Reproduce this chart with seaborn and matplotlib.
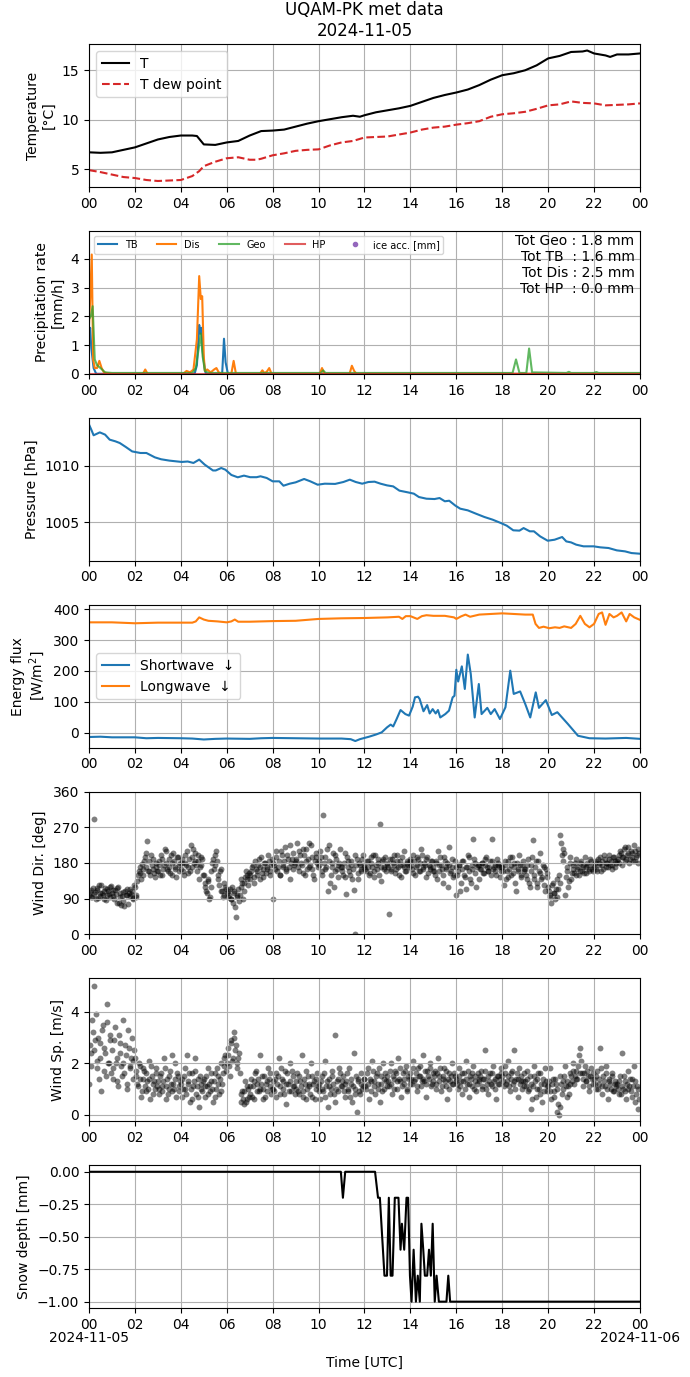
import pandas as pd
import numpy as np
import seaborn as sns
import matplotlib.pyplot as plt
import matplotlib.dates as mdates
import matplotlib.ticker as mticker

DAY = pd.Timestamp('2024-11-05')

# Temperature (hours since 00 UTC)
t_hours = [0, 0.5, 1, 1.5, 2, 2.5, 3, 3.5, 4, 4.5, 4.7, 5, 5.5, 6, 6.5, 7, 7.5, 8, 8.5, 9,
           9.5, 10, 10.5, 11, 11.5, 11.8, 12, 12.5, 13, 13.5, 14, 14.5, 15, 15.5, 16, 16.5,
           17, 17.5, 18, 18.5, 19, 19.5, 20, 20.5, 21, 21.5, 21.7, 22, 22.5, 22.7, 23, 23.5, 24]
temp = [6.7, 6.65, 6.7, 6.95, 7.2, 7.6, 8.0, 8.25, 8.4, 8.4, 8.35, 7.5, 7.45, 7.7, 7.85, 8.4,
        8.85, 8.9, 9.0, 9.3, 9.6, 9.85, 10.05, 10.25, 10.4, 10.3, 10.45, 10.75, 10.95, 11.15,
        11.4, 11.8, 12.2, 12.5, 12.75, 13.05, 13.5, 14.05, 14.5, 14.7, 15.0, 15.5, 16.2, 16.45,
        16.85, 16.9, 17.0, 16.7, 16.5, 16.35, 16.6, 16.6, 16.7]
td_hours = [0, 0.5, 1, 1.5, 2, 2.5, 3, 3.5, 4, 4.5, 4.8, 5, 5.5, 6, 6.5, 7, 7.3, 7.5, 8, 8.5,
            9, 9.5, 10, 10.5, 11, 11.5, 12, 12.5, 13, 13.5, 14, 14.5, 15, 15.5, 16, 16.5, 17,
            17.5, 18, 18.5, 19, 19.5, 20, 20.5, 21, 21.5, 22, 22.5, 23, 23.5, 24]
dewpoint = [4.9, 4.7, 4.45, 4.2, 4.1, 3.9, 3.8, 3.85, 3.9, 4.3, 4.8, 5.3, 5.75, 6.1, 6.2, 5.95,
            5.95, 6.05, 6.4, 6.6, 6.85, 6.95, 7.0, 7.4, 7.7, 7.85, 8.2, 8.25, 8.3, 8.5, 8.7, 9.0,
            9.2, 9.3, 9.5, 9.65, 9.85, 10.3, 10.55, 10.65, 10.8, 11.1, 11.45, 11.55, 11.85, 11.7,
            11.65, 11.45, 11.5, 11.55, 11.65]

# Precipitation rate [mm/h]
tb_hours = [0, 0.05, 0.1, 0.2, 0.3, 0.35, 4.6, 4.7, 4.8, 4.85, 4.9, 4.95, 5.05, 5.1,
            5.8, 5.88, 5.95, 6.05, 24]
tb_rate = [1.2, 1.6, 0.9, 0.2, 0.02, 0, 0, 0.3, 1.7, 1.4, 1.6, 0.8, 0.1, 0,
           0, 1.22, 0.4, 0, 0]
dis_hours = [0, 0.05, 0.12, 0.18, 0.25, 0.35, 0.45, 0.55, 0.65, 0.8, 1.0, 2.35, 2.45, 2.55,
             4.1, 4.25, 4.4, 4.55, 4.7, 4.8, 4.87, 4.93, 5.0, 5.05, 5.15, 5.3, 5.45, 5.55,
             5.65, 5.8, 6.2, 6.3, 6.4, 7.45, 7.55, 7.65, 7.75, 7.85, 7.95, 10.05, 10.15,
             10.25, 11.35, 11.45, 11.55, 11.65, 24]
dis_rate = [1.7, 2.6, 4.15, 0.5, 0.2, 0.2, 0.45, 0.2, 0.05, 0.02, 0, 0, 0.15, 0,
            0, 0.1, 0.05, 0.15, 1.2, 3.4, 2.6, 2.7, 0.6, 0.1, 0.15, 0.05, 0.15, 0.2,
            0.05, 0, 0, 0.45, 0, 0, 0.12, 0.02, 0.08, 0.2, 0, 0, 0.2,
            0, 0, 0.28, 0.1, 0, 0]
geo_hours = [0, 0.08, 0.16, 0.25, 0.35, 0.5, 0.7, 1.0, 4.5, 4.65, 4.8, 4.87, 4.95, 5.05,
             5.2, 10.1, 10.2, 10.3, 18.45, 18.6, 18.75, 19.05, 19.17, 19.3, 20.8, 20.9,
             21.0, 22.0, 22.1, 22.2, 24]
geo_rate = [1.9, 2.0, 2.35, 0.5, 0.3, 0.2, 0.05, 0.03, 0.03, 0.2, 1.0, 1.4, 0.6, 0.1,
            0.03, 0.03, 0.12, 0.03, 0.03, 0.5, 0.03, 0.03, 0.88, 0.05, 0.03, 0.07,
            0.03, 0.03, 0.06, 0.03, 0.03]
hp_hours = [0, 24]
hp_rate = [0, 0]
totals = {'Geo': 1.8, 'TB ': 1.6, 'Dis': 2.5, 'HP ': 0.0}

# Pressure [hPa]
p_hours = [0, 0.1, 0.2, 0.47, 0.7, 0.9, 1.15, 1.34, 1.6, 1.88, 2.24, 2.5, 2.87, 3.14, 3.5,
           4.04, 4.3, 4.55, 4.8, 5.04, 5.4, 5.52, 5.76, 5.94, 6.2, 6.48, 6.75, 7.02, 7.3,
           7.47, 7.74, 8.0, 8.29, 8.47, 8.74, 9.0, 9.37, 9.64, 9.96, 10.27, 10.72, 11.08,
           11.36, 11.62, 11.9, 12.17, 12.44, 12.7, 12.98, 13.25, 13.52, 13.88, 14.15, 14.37,
           14.7, 15.05, 15.27, 15.5, 15.69, 15.96, 16.17, 16.5, 16.86, 17.22, 17.58, 17.94,
           18.2, 18.48, 18.75, 18.93, 19.2, 19.38, 19.65, 19.98, 20.28, 20.61, 20.79, 21.0,
           21.22, 21.54, 21.98, 22.27, 22.63, 22.99, 23.35, 23.63, 24]
pressure = [1013.7, 1013.24, 1012.74, 1013.0, 1012.8, 1012.35, 1012.2, 1012.05, 1011.7,
            1011.3, 1011.16, 1011.16, 1010.77, 1010.6, 1010.48, 1010.36, 1010.4, 1010.27,
            1010.57, 1010.12, 1009.6, 1009.6, 1009.82, 1009.67, 1009.2, 1008.99, 1009.14,
            1009.0, 1009.0, 1009.08, 1008.93, 1008.63, 1008.63, 1008.24, 1008.42, 1008.54,
            1008.84, 1008.63, 1008.33, 1008.42, 1008.4, 1008.57, 1008.78, 1008.57, 1008.42,
            1008.57, 1008.6, 1008.42, 1008.27, 1008.18, 1007.8, 1007.65, 1007.53, 1007.23,
            1007.08, 1007.05, 1007.14, 1006.85, 1006.9, 1006.46, 1006.19, 1006.04, 1005.74,
            1005.45, 1005.21, 1004.91, 1004.67, 1004.26, 1004.23, 1004.46, 1004.17, 1004.17,
            1003.72, 1003.33, 1003.42, 1003.66, 1003.27, 1003.18, 1002.98, 1002.83, 1002.83,
            1002.74, 1002.68, 1002.47, 1002.38, 1002.23, 1002.17]

# Radiation [W/m2]
sw_hours = [0, 0.5, 1, 2, 2.5, 3, 4, 4.5, 5.0, 5.5, 6, 7, 7.5, 8, 9, 10, 11, 11.4, 11.6,
            11.8, 12.2, 12.5, 12.75, 12.98, 13.14, 13.25, 13.4, 13.57, 13.78, 13.94, 14.1,
            14.2, 14.33, 14.4, 14.57, 14.73, 14.84, 14.97, 15.1, 15.2, 15.3, 15.52, 15.68,
            15.84, 15.92, 16.0, 16.08, 16.24, 16.37, 16.5, 16.63, 16.8, 16.98, 17.1, 17.35,
            17.5, 17.67, 17.9, 18.14, 18.35, 18.5, 18.78, 19.0, 19.22, 19.46, 19.6, 19.9,
            20.16, 20.4, 20.86, 21.3, 21.8, 22.5, 23.4, 24]
shortwave = [-13, -12, -14, -14, -17, -16, -17, -18, -21, -19, -18, -19, -17, -16, -17, -18,
             -18, -20, -26, -20, -12, -5, 2, 18, 27, 21, 45, 74, 61, 56, 85, 115, 117, 110,
             70, 90, 63, 77, 63, 74, 50, 61, 72, 115, 120, 204, 166, 215, 142, 253, 190, 50,
             158, 61, 81, 61, 77, 45, 83, 201, 126, 134, 94, 50, 131, 81, 106, 58, 67, 29,
             -9, -17, -18, -16, -19]
lw_hours = [0, 1, 2, 3, 4, 4.5, 4.65, 4.8, 5.0, 5.2, 5.6, 6.0, 6.2, 6.35, 6.5, 7, 8, 9, 10,
            11, 12, 13, 13.5, 13.65, 13.8, 14.0, 14.3, 14.5, 14.7, 15.0, 15.5, 15.9, 16.0,
            16.2, 16.4, 16.6, 17.0, 17.5, 18.0, 18.5, 19.0, 19.33, 19.45, 19.6, 19.8, 20.05,
            20.3, 20.5, 20.7, 21.0, 21.2, 21.4, 21.6, 21.8, 22.0, 22.2, 22.35, 22.5, 22.67,
            22.85, 23.0, 23.2, 23.4, 23.55, 23.75, 24]
longwave = [357, 357, 354, 356, 356, 356, 360, 373, 366, 362, 360, 357, 360, 366, 359, 359,
            361, 362, 368, 370, 371, 373, 375, 368, 377, 377, 368, 377, 380, 378, 378, 373,
            368, 376, 382, 375, 382, 384, 386, 384, 382, 382, 352, 339, 343, 338, 341, 339,
            344, 339, 352, 378, 352, 341, 352, 384, 389, 349, 384, 373, 378, 389, 360, 384,
            373, 365]

# Wind: readings at minute 0, 4, 8, ... (set a) and 2, 6, 10, ... (set b), 15 per hour
wind_dir_a = [
    [100, 112, 95, 290, 108, 118, 92, 104, 125, 99, 110, 86, 115, 102, 120],
    [105, 98, 112, 80, 120, 95, 74, 108, 72, 100, 115, 104, 96, 110, 92],
    [120, 95, 150, 170, 140, 165, 185, 205, 236, 160, 150, 175, 190, 145, 170],
    [160, 185, 200, 150, 175, 210, 165, 190, 155, 180, 205, 170, 145, 195, 175],
    [165, 190, 150, 180, 210, 170, 160, 195, 215, 185, 175, 200, 140, 175, 190],
    [150, 120, 105, 135, 95, 160, 190, 175, 210, 150, 125, 165, 110, 100, 120],
    [105, 95, 115, 90, 80, 110, 45, 100, 85, 120, 130, 110, 145, 150, 125],
    [140, 160, 175, 130, 165, 150, 190, 170, 155, 145, 180, 165, 200, 150, 175],
    [90, 175, 210, 160, 185, 150, 200, 170, 220, 165, 190, 140, 180, 205, 175],
    [185, 230, 160, 200, 175, 215, 150, 215, 190, 170, 225, 165, 140, 195, 180],
    [185, 210, 160, 300, 195, 170, 110, 225, 150, 180, 120, 200, 165, 175, 215],
    [170, 150, 205, 103, 185, 160, 175, 140, 112, 0, 190, 155, 175, 165, 200],
    [175, 160, 185, 150, 195, 170, 145, 200, 165, 180, 277, 135, 190, 170, 160],
    [180, 52, 165, 190, 175, 155, 200, 170, 185, 145, 175, 210, 160, 180, 170],
    [185, 165, 200, 150, 175, 190, 160, 215, 170, 180, 145, 195, 175, 165, 185],
    [170, 150, 185, 210, 160, 175, 130, 195, 165, 180, 220, 155, 170, 145, 185],
    [100, 160, 175, 130, 185, 150, 115, 170, 195, 140, 165, 241, 180, 120, 175],
    [175, 165, 180, 155, 190, 170, 160, 185, 241, 165, 175, 150, 180, 170, 160],
    [170, 125, 185, 160, 145, 195, 175, 155, 180, 110, 165, 200, 150, 175, 160],
    [165, 140, 190, 120, 175, 237, 150, 185, 130, 160, 205, 145, 170, 110, 155],
    [120, 100, 80, 130, 105, 115, 95, 150, 250, 200, 215, 100, 160, 120, 195],
    [140, 175, 155, 190, 165, 150, 180, 160, 170, 195, 155, 175, 165, 185, 160],
    [170, 185, 160, 180, 195, 175, 165, 190, 180, 170, 200, 185, 175, 195, 170],
    [185, 200, 210, 175, 195, 220, 190, 205, 180, 210, 195, 225, 185, 200, 215],
]
wind_dir_b = [
    [108, 95, 118, 102, 90, 112, 125, 98, 105, 88, 116, 100, 110, 94, 122],
    [112, 88, 102, 118, 78, 105, 96, 84, 110, 99, 76, 115, 102, 90, 125],
    [100, 135, 160, 155, 178, 150, 195, 170, 160, 185, 200, 165, 155, 180, 160],
    [175, 150, 190, 165, 215, 180, 160, 170, 200, 150, 185, 165, 195, 160, 180],
    [180, 160, 200, 175, 155, 190, 225, 170, 180, 205, 160, 185, 170, 195, 150],
    [130, 110, 140, 90, 120, 180, 165, 200, 185, 140, 160, 110, 95, 130, 115],
    [110, 100, 90, 120, 105, 70, 95, 115, 100, 140, 90, 130, 160, 140, 155],
    [150, 170, 145, 185, 160, 175, 140, 195, 165, 180, 155, 170, 185, 160, 190],
    [180, 165, 195, 170, 150, 210, 175, 185, 160, 200, 170, 225, 190, 165, 180],
    [190, 170, 210, 180, 155, 200, 185, 165, 230, 175, 195, 150, 185, 205, 170],
    [175, 195, 150, 180, 165, 215, 185, 130, 170, 205, 160, 190, 145, 180, 170],
    [160, 180, 145, 195, 170, 150, 185, 165, 200, 175, 140, 180, 160, 190, 170],
    [165, 185, 170, 155, 180, 200, 160, 175, 190, 150, 170, 185, 165, 195, 175],
    [170, 190, 160, 180, 200, 165, 185, 150, 175, 195, 170, 160, 185, 175, 190],
    [175, 155, 185, 170, 195, 160, 180, 200, 165, 175, 190, 155, 170, 185, 160],
    [160, 180, 140, 175, 195, 165, 150, 185, 170, 120, 175, 160, 190, 150, 170],
    [150, 175, 110, 165, 185, 145, 170, 200, 160, 130, 175, 190, 155, 170, 140],
    [165, 180, 155, 175, 195, 160, 170, 150, 185, 170, 160, 190, 175, 145, 170],
    [160, 175, 140, 185, 165, 150, 195, 170, 130, 180, 160, 175, 145, 185, 165],
    [150, 175, 130, 160, 195, 140, 170, 120, 185, 155, 140, 175, 125, 165, 145],
    [110, 95, 125, 105, 90, 140, 115, 130, 230, 185, 205, 145, 170, 135, 180],
    [155, 165, 180, 150, 170, 160, 185, 175, 155, 170, 180, 160, 190, 165, 175],
    [180, 165, 190, 175, 160, 185, 200, 170, 180, 190, 175, 165, 195, 185, 180],
    [190, 180, 205, 195, 215, 185, 200, 220, 190, 205, 185, 210, 195, 180, 205],
]
wind_sp_a = [
    [1.2, 2.4, 3.7, 5.0, 2.9, 1.8, 3.0, 2.2, 0.9, 3.5, 2.6, 1.5, 4.3, 2.0, 3.1],
    [2.5, 1.4, 3.4, 2.2, 1.1, 2.8, 1.9, 3.7, 1.6, 2.3, 1.0, 2.6, 1.8, 3.0, 2.1],
    [2.2, 1.5, 1.1, 1.9, 0.7, 1.4, 1.7, 0.9, 1.3, 2.1, 0.6, 1.5, 1.2, 1.0, 1.8],
    [1.3, 0.8, 1.6, 1.1, 2.2, 0.6, 1.4, 1.0, 1.7, 0.9, 1.2, 2.0, 0.7, 1.5, 1.1],
    [1.2, 0.7, 1.5, 1.0, 2.3, 1.3, 0.5, 1.6, 1.1, 2.2, 0.8, 1.4, 0.3, 1.2, 0.9],
    [1.4, 0.7, 1.1, 1.8, 0.9, 1.3, 0.5, 1.6, 1.0, 1.5, 0.8, 2.0, 1.2, 1.9, 2.3],
    [2.0, 2.6, 1.5, 2.9, 2.2, 3.2, 2.7, 1.8, 2.4, 0.5, 0.9, 0.4, 1.3, 0.6, 1.0],
    [0.8, 1.4, 1.1, 0.6, 1.7, 1.2, 0.9, 2.3, 1.5, 1.0, 0.7, 1.3, 1.8, 1.1, 0.8],
    [1.3, 0.9, 1.6, 1.2, 2.2, 0.8, 1.4, 1.0, 1.7, 0.4, 1.2, 2.0, 0.9, 1.5, 1.1],
    [1.0, 1.6, 0.8, 1.3, 2.3, 0.9, 1.2, 0.6, 1.5, 1.1, 2.0, 0.7, 1.3, 1.0, 1.6],
    [1.2, 0.6, 1.5, 0.9, 2.1, 1.1, 0.3, 1.4, 1.0, 1.7, 0.8, 3.1, 1.3, 0.9, 1.6],
    [1.1, 1.5, 0.7, 1.3, 0.9, 1.8, 1.2, 0.5, 2.4, 1.0, 0.1, 1.4, 0.8, 1.6, 1.1],
    [1.4, 1.0, 1.8, 0.6, 1.3, 2.1, 1.1, 0.8, 1.6, 1.2, 0.5, 1.5, 2.0, 1.0, 1.3],
    [1.5, 1.1, 2.0, 0.8, 1.4, 1.7, 1.0, 2.2, 1.3, 0.7, 1.6, 1.2, 1.9, 0.9, 1.4],
    [1.6, 1.2, 2.1, 1.4, 0.9, 1.8, 1.5, 1.1, 2.3, 1.3, 0.7, 1.7, 1.4, 2.0, 1.2],
    [1.3, 1.7, 1.0, 2.2, 1.5, 0.9, 1.4, 1.8, 1.1, 0.6, 1.6, 1.3, 2.0, 1.2, 1.5],
    [1.4, 1.0, 1.8, 1.3, 0.8, 1.6, 2.1, 1.2, 0.7, 1.5, 1.1, 1.9, 1.3, 0.9, 1.6],
    [1.3, 1.7, 1.0, 1.4, 2.5, 1.2, 0.8, 1.6, 1.1, 1.9, 1.4, 0.6, 1.5, 1.2, 1.8],
    [1.5, 1.1, 1.9, 1.3, 2.1, 0.9, 1.6, 1.2, 2.5, 1.4, 0.7, 1.8, 1.3, 1.0, 1.6],
    [1.3, 1.7, 0.9, 1.5, 0.2, 1.1, 1.9, 0.7, 1.4, 1.0, 1.6, 0.5, 1.2, 1.8, 0.9],
    [1.1, 1.8, 0.6, 1.4, 0.9, 1.2, 0.1, 0.0, 1.5, 0.8, 1.3, 1.9, 0.7, 1.1, 1.6],
    [1.5, 2.0, 1.2, 1.7, 1.4, 2.3, 2.6, 1.6, 1.1, 1.9, 1.3, 1.5, 0.9, 1.8, 1.2],
    [1.4, 1.0, 1.7, 1.2, 2.6, 0.8, 1.5, 1.1, 1.9, 0.6, 1.3, 1.0, 1.6, 0.9, 1.2],
    [1.2, 0.8, 1.5, 2.4, 1.0, 1.3, 0.6, 1.7, 1.1, 0.9, 1.4, 1.9, 0.5, 1.1, 0.2],
]
wind_sp_b = [
    [2.7, 1.9, 3.2, 2.5, 3.9, 2.1, 1.4, 2.8, 3.3, 1.7, 2.4, 3.6, 2.0, 2.9, 1.6],
    [1.8, 2.9, 2.0, 1.3, 3.1, 2.4, 1.5, 2.0, 2.7, 1.2, 3.3, 1.9, 2.2, 1.4, 2.5],
    [1.7, 1.2, 2.0, 1.4, 0.9, 1.8, 1.1, 1.6, 1.0, 1.4, 1.9, 0.8, 1.3, 1.6, 1.1],
    [1.0, 1.5, 0.9, 1.3, 1.8, 1.1, 0.8, 1.5, 1.2, 2.3, 1.0, 1.4, 1.6, 0.9, 1.3],
    [1.4, 1.0, 1.8, 0.8, 1.2, 1.6, 1.0, 0.6, 1.3, 1.7, 1.1, 0.7, 1.5, 1.0, 1.3],
    [1.1, 1.5, 0.8, 1.2, 1.6, 1.0, 1.3, 0.7, 1.8, 1.2, 1.4, 0.9, 1.6, 2.2, 1.7],
    [2.3, 1.9, 2.8, 2.1, 3.0, 2.5, 2.0, 2.2, 1.6, 0.8, 0.6, 0.9, 0.5, 1.1, 0.7],
    [1.1, 0.7, 1.3, 1.6, 0.9, 1.4, 1.0, 1.2, 0.6, 1.5, 1.2, 0.9, 1.4, 1.6, 1.0],
    [1.0, 1.4, 0.7, 1.5, 1.1, 1.8, 1.3, 0.8, 1.2, 1.6, 0.9, 1.3, 1.7, 1.1, 0.8],
    [1.3, 0.9, 1.5, 1.1, 0.7, 1.4, 1.7, 1.0, 1.2, 0.8, 1.5, 1.2, 0.6, 1.4, 1.1],
    [0.9, 1.3, 1.0, 1.6, 0.7, 1.3, 1.1, 0.8, 1.5, 1.2, 0.5, 1.0, 1.4, 1.8, 1.1],
    [1.3, 0.9, 1.2, 1.6, 1.0, 0.7, 1.4, 1.1, 0.8, 1.5, 1.3, 0.9, 1.2, 1.0, 1.4],
    [1.1, 1.6, 1.2, 1.4, 0.9, 1.7, 1.3, 1.5, 1.0, 1.8, 1.2, 0.9, 1.4, 1.6, 1.1],
    [1.3, 1.7, 1.2, 1.5, 1.0, 1.6, 1.3, 1.4, 1.8, 1.1, 1.4, 1.7, 1.0, 1.5, 1.2],
    [1.4, 1.8, 1.3, 1.6, 1.1, 1.5, 1.9, 1.3, 1.4, 1.7, 1.2, 1.5, 1.8, 1.1, 1.6],
    [1.5, 1.2, 1.6, 1.3, 1.8, 1.1, 1.5, 1.3, 1.7, 1.4, 1.0, 1.5, 1.2, 1.6, 1.3],
    [1.2, 1.5, 1.1, 1.6, 1.3, 1.0, 1.4, 1.7, 1.2, 1.4, 1.6, 1.0, 1.5, 1.2, 1.4],
    [1.5, 1.1, 1.4, 1.7, 1.0, 1.5, 1.3, 1.2, 1.6, 1.3, 1.0, 1.5, 1.2, 1.4, 1.6],
    [1.3, 1.6, 1.2, 1.5, 1.1, 1.4, 1.7, 1.3, 1.0, 1.6, 1.4, 1.2, 1.5, 1.3, 1.1],
    [1.1, 1.4, 1.0, 1.2, 0.6, 1.5, 1.3, 1.0, 1.6, 0.8, 1.2, 1.4, 0.9, 1.3, 1.1],
    [1.3, 0.9, 1.2, 0.7, 1.4, 1.0, 0.4, 0.3, 1.2, 1.0, 1.5, 1.1, 1.3, 0.8, 1.2],
    [1.3, 1.7, 1.5, 1.4, 1.9, 1.6, 2.1, 1.4, 1.6, 1.3, 1.7, 1.1, 1.5, 1.4, 1.6],
    [1.2, 1.5, 1.0, 1.4, 1.8, 1.1, 1.3, 1.6, 1.0, 1.4, 1.2, 1.5, 0.9, 1.3, 1.1],
    [1.0, 1.3, 0.8, 1.1, 1.5, 0.9, 1.2, 1.0, 1.4, 0.7, 1.1, 1.3, 0.8, 1.0, 0.6],
]

# Snow depth [mm]
snow_hours = [0, 10.97, 11.06, 11.16, 12.46, 12.59, 12.67, 12.87, 12.98, 13.06, 13.14, 13.22,
              13.32, 13.48, 13.57, 13.63, 13.73, 13.83, 13.9, 13.98, 14.05, 14.14, 14.24,
              14.32, 14.41, 14.48, 14.56, 14.63, 14.73, 14.81, 14.89, 14.97, 15.06, 15.14,
              15.24, 15.57, 15.65, 15.73, 24]
snow_depth = [0, 0, -0.2, 0, 0, -0.2, -0.2, -0.8, -0.8, -0.2, -0.8, -0.8,
              -0.2, -0.2, -0.6, -0.4, -0.6, -0.2, -0.2, -0.8, -1.0, -0.6, -1.0,
              -0.8, -1.0, -0.4, -0.6, -0.8, -0.8, -0.6, -0.8, -0.4, -1.0, -0.8,
              -1.0, -1.0, -0.8, -1.0, -1.0]
date_labels = ['2024-11-05', '2024-11-06']


def to_time(hours):
    return DAY + pd.to_timedelta(np.asarray(hours, dtype=float), unit='h')


minutes_a = np.arange(24 * 15) * 4
wind_time = to_time(np.concatenate([minutes_a, minutes_a + 2]) / 60)
wind_dir = np.concatenate(wind_dir_a + wind_dir_b)
wind_sp = np.concatenate(wind_sp_a + wind_sp_b)

fig, axes = plt.subplots(7, 1, figsize=(6.9, 13.77), dpi=100)
fig.subplots_adjust(left=0.129, right=0.9275, top=0.968, bottom=0.050, hspace=0.308)
ax_t, ax_p, ax_pr, ax_e, ax_wd, ax_ws, ax_sn = axes

# temperature
sns.lineplot(x=to_time(t_hours), y=temp, ax=ax_t, color='k', label='T')
sns.lineplot(x=to_time(td_hours), y=dewpoint, ax=ax_t, color='C3', linestyle='--', label='T dew point')
ax_t.set_ylim(3.2, 17.65)
ax_t.yaxis.set_major_locator(mticker.MultipleLocator(5))
ax_t.set_ylabel('Temperature\n[°C]')
ax_t.legend(loc='upper left')
ax_t.set_title('UQAM-PK met data\n2024-11-05')

# precipitation
sns.lineplot(x=to_time(tb_hours), y=tb_rate, ax=ax_p, color='C0', label='TB')
sns.lineplot(x=to_time(dis_hours), y=dis_rate, ax=ax_p, color='C1', label='Dis')
sns.lineplot(x=to_time(geo_hours), y=geo_rate, ax=ax_p, color='C2', alpha=0.75, label='Geo')
sns.lineplot(x=to_time(hp_hours), y=hp_rate, ax=ax_p, color='C3', alpha=0.75, label='HP')
ax_p.plot([], [], 'o', color='C4', ms=3, label='ice acc. [mm]')
ax_p.set_ylim(0, 4.97)
ax_p.set_ylabel('Precipitation rate\n[mm/h]')
ax_p.legend(loc='upper left', ncol=5, fontsize=7)
tot_txt = '\n'.join(f'Tot {k} : {v:.1f} mm' for k, v in totals.items())
ax_p.text(0.99, 0.98, tot_txt, transform=ax_p.transAxes, ha='right', va='top', fontsize=10)

# pressure
sns.lineplot(x=to_time(p_hours), y=pressure, ax=ax_pr, color='C0')
ax_pr.set_ylim(1001.55, 1014.3)
ax_pr.yaxis.set_major_locator(mticker.MultipleLocator(5))
ax_pr.set_ylabel('Pressure [hPa]')

# radiation
sns.lineplot(x=to_time(sw_hours), y=shortwave, ax=ax_e, color='C0', label='Shortwave  ↓')
sns.lineplot(x=to_time(lw_hours), y=longwave, ax=ax_e, color='C1', label='Longwave  ↓')
ax_e.set_ylim(-47, 414)
ax_e.set_ylabel('Energy flux\n[W/m$^2$]')
ax_e.legend(loc='center left')

# wind
sns.scatterplot(x=wind_time, y=wind_dir, ax=ax_wd, color='k', alpha=0.5, s=18, linewidth=0)
ax_wd.set_ylim(0, 360)
ax_wd.set_yticks([0, 90, 180, 270, 360])
ax_wd.set_ylabel('Wind Dir. [deg]')

sns.scatterplot(x=wind_time, y=wind_sp, ax=ax_ws, color='k', alpha=0.5, s=18, linewidth=0)
ax_ws.set_ylim(-0.26, 5.3)
ax_ws.yaxis.set_major_locator(mticker.MultipleLocator(2))
ax_ws.set_ylabel('Wind Sp. [m/s]')

# snow
sns.lineplot(x=to_time(snow_hours), y=snow_depth, ax=ax_sn, color='k')
ax_sn.set_ylim(-1.05, 0.05)
ax_sn.set_ylabel('Snow depth [mm]')
ax_sn.set_xlabel('Time [UTC]', labelpad=17)


def hour_label(x, pos):
    d = pd.Timestamp(mdates.num2date(x)).round('min')
    return d.strftime('%H')


for ax in axes:
    ax.set_xlim(DAY, DAY + pd.Timedelta(hours=24))
    ax.xaxis.set_major_locator(mdates.HourLocator(byhour=range(0, 24, 2)))
    ax.xaxis.set_major_formatter(mticker.FuncFormatter(hour_label))
    ax.grid(True)
    if ax is not ax_sn:
        ax.set_xlabel('')

# day labels under the first and last tick of the bottom panel
for i, lab in enumerate(date_labels):
    ax_sn.annotate(lab, xy=(DAY + pd.Timedelta(days=i), 0), xycoords=('data', 'axes fraction'),
                   xytext=(0, -16.5), textcoords='offset points', ha='center', va='top')

fig.savefig('out.png', dpi=100)
